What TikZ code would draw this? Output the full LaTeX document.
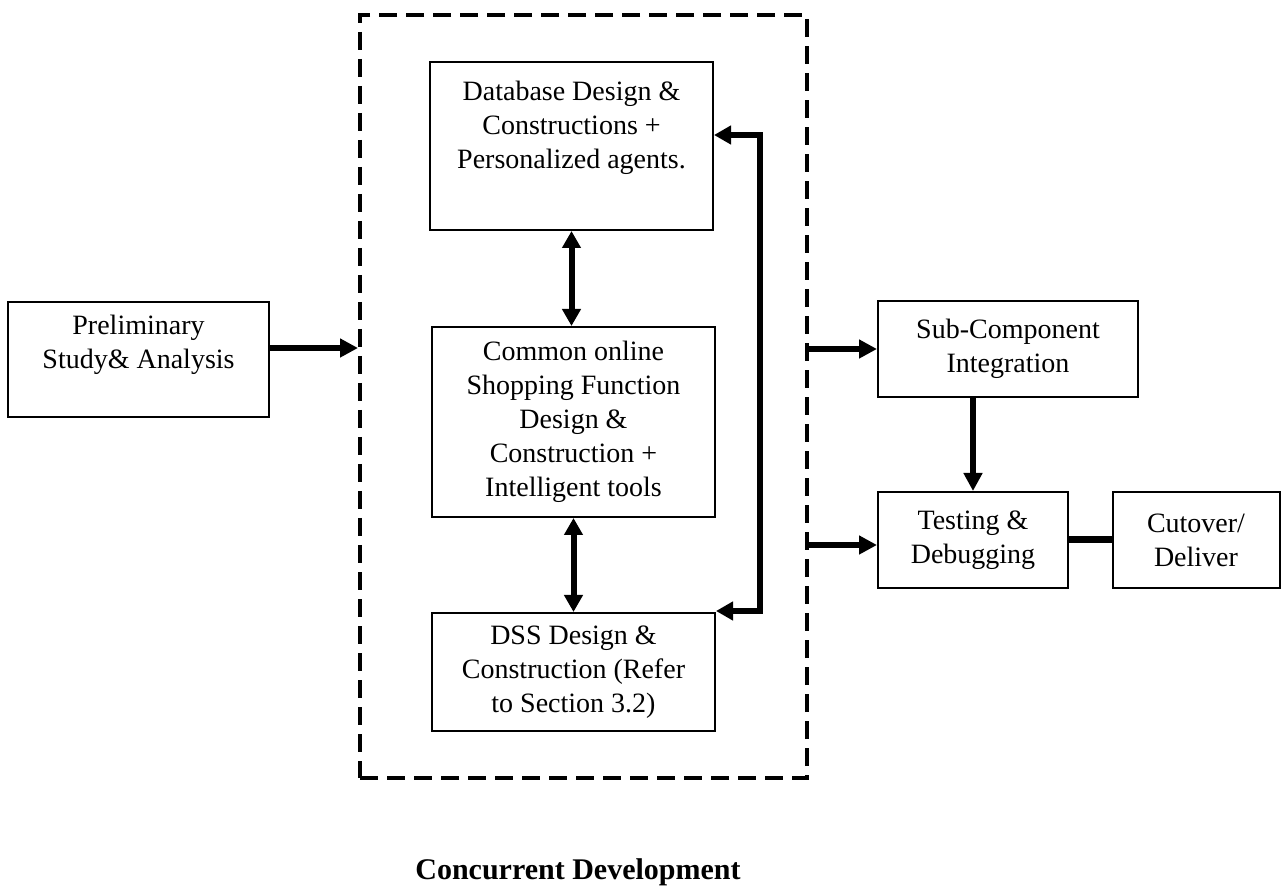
\documentclass[tikz,border=0pt]{standalone}
\usepackage{fontspec}
\setmainfont{Liberation Serif}
\usetikzlibrary{arrows.meta}
\begin{document}
\begin{tikzpicture}[x=0.5pt,y=-0.5pt,
  box/.style={draw, line width=1pt, inner sep=0pt},
  lbl/.style={align=center, font=\fontsize{14}{17}\selectfont, inner sep=0pt},
  arr/.style={line width=3pt, -{Triangle[length=9pt,width=9pt]}},
  darr/.style={line width=3pt, {Triangle[length=8.5pt,width=9pt]}-{Triangle[length=8.5pt,width=9pt]}},
  conc/.style={draw, line width=2pt, dash pattern=on 9pt off 4.5pt, inner sep=0pt}]
\useasboundingbox (0,0) rectangle (1287,893);
% boxes
\node[box, minimum width=130.5pt, minimum height=57.5pt] (pre) at (138.5,359.5) {};
\node[lbl] (pret) at (138.5,345) {Preliminary\\Study\& Analysis};
\node[conc, minimum width=223.5pt, minimum height=381.5pt] (cd) at (583.5,396.5) {};
\node[box, minimum width=141.5pt, minimum height=84pt] (db) at (571.5,146) {};
\node[lbl] (dbt) at (571.5,128) {Database Design \&\\Constructions +\\Personalized agents.};
\node[box, lbl, minimum width=141.5pt, minimum height=95pt] (com) at (573.5,422) {Common online\\Shopping Function\\Design \&\\Construction +\\Intelligent tools};
\node[box, lbl, minimum width=141.5pt, minimum height=59pt] (dss) at (573.5,672) {DSS Design \&\\Construction (Refer\\to Section 3.2)};
\node[box, lbl, minimum width=130pt, minimum height=48pt] (sub) at (1008,349) {Sub-Component\\Integration};
\node[box, lbl, minimum width=95pt, minimum height=48pt] (test) at (973,540) {Testing \&\\Debugging};
\node[box, lbl, minimum width=83.5pt, minimum height=48pt] (cut) at (1196,540) {Cutover/\\Deliver};
\node[font=\bfseries\fontsize{15}{18}\selectfont, inner sep=0pt] (cap) at (578,872) {Concurrent Development};
% helper coordinates
\coordinate (ya) at (0,348);
\coordinate (yb) at (0,545);
\coordinate (lx) at (760,0);
\coordinate (ly1) at (0,135);
\coordinate (ly2) at (0,611);
% connectors
\draw[arr] (pre.east |- ya) -- (cd.west |- ya);
\draw[arr] (cd.east |- sub.west) -- (sub.west);
\draw[arr] (cd.east |- yb) -- (test.west |- yb);
\draw[arr] (test.north |- sub.south) -- (test.north);
\draw[line width=3.5pt] (test.east) -- (cut.west);
\draw[darr] (db.south) -- (db.south |- com.north);
\draw[darr] (com.south) -- (dss.north);
\draw[darr] (db.east |- ly1) -| (lx |- ly2) -- (dss.east |- ly2);
\end{tikzpicture}
\end{document}
